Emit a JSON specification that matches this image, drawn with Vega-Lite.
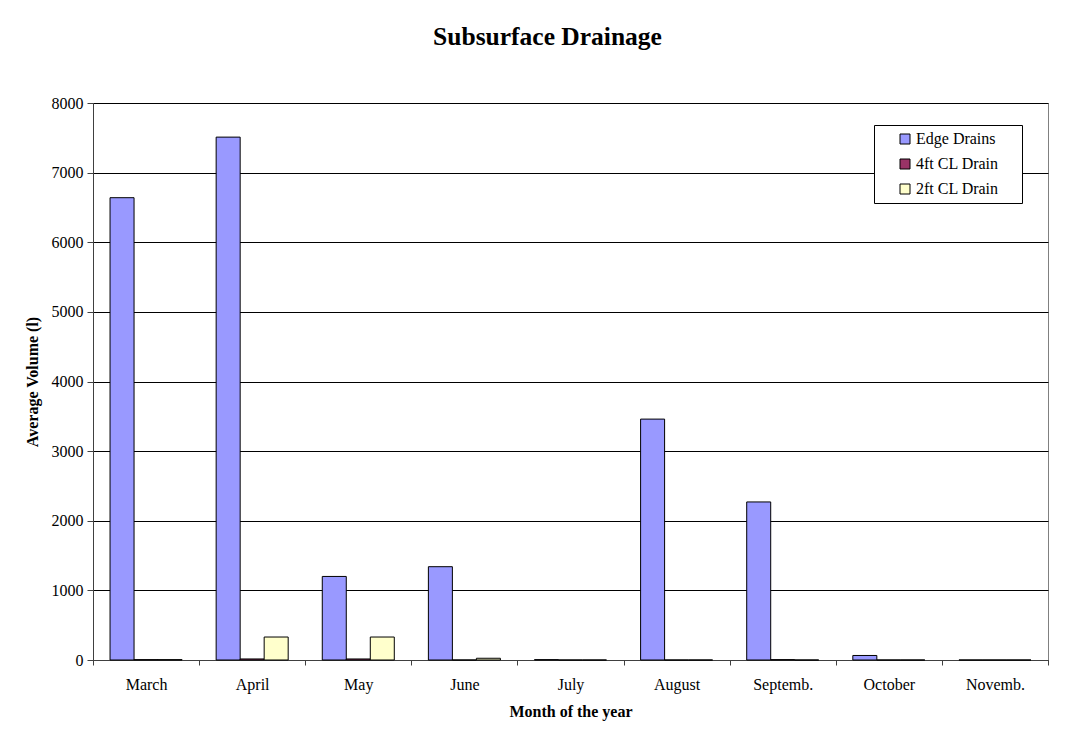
{
  "$schema": "https://vega.github.io/schema/vega-lite/v6.json",
  "width": 955,
  "height": 557,
  "autosize": {"type": "none"},
  "padding": {"left": 93, "top": 103, "right": 38, "bottom": 78},
  "background": "white",
  "title": {
    "text": "Subsurface Drainage",
    "font": "Liberation Serif",
    "fontSize": 25.5,
    "fontWeight": "bold",
    "color": "black",
    "anchor": "middle",
    "frame": "group",
    "dx": -23,
    "offset": 45
  },
  "data": {
    "values": [
      {"month": "March", "series": "Edge Drains", "volume": 6640},
      {"month": "March", "series": "4ft CL Drain", "volume": 5},
      {"month": "March", "series": "2ft CL Drain", "volume": 5},
      {"month": "April", "series": "Edge Drains", "volume": 7510},
      {"month": "April", "series": "4ft CL Drain", "volume": 15},
      {"month": "April", "series": "2ft CL Drain", "volume": 330},
      {"month": "May", "series": "Edge Drains", "volume": 1200},
      {"month": "May", "series": "4ft CL Drain", "volume": 15},
      {"month": "May", "series": "2ft CL Drain", "volume": 330},
      {"month": "June", "series": "Edge Drains", "volume": 1340},
      {"month": "June", "series": "4ft CL Drain", "volume": 0},
      {"month": "June", "series": "2ft CL Drain", "volume": 25},
      {"month": "July", "series": "Edge Drains", "volume": 5},
      {"month": "July", "series": "4ft CL Drain", "volume": 0},
      {"month": "July", "series": "2ft CL Drain", "volume": 0},
      {"month": "August", "series": "Edge Drains", "volume": 3460},
      {"month": "August", "series": "4ft CL Drain", "volume": 0},
      {"month": "August", "series": "2ft CL Drain", "volume": 0},
      {"month": "Septemb.", "series": "Edge Drains", "volume": 2270},
      {"month": "Septemb.", "series": "4ft CL Drain", "volume": 5},
      {"month": "Septemb.", "series": "2ft CL Drain", "volume": 0},
      {"month": "October", "series": "Edge Drains", "volume": 65},
      {"month": "October", "series": "4ft CL Drain", "volume": 0},
      {"month": "October", "series": "2ft CL Drain", "volume": 0},
      {"month": "Novemb.", "series": "Edge Drains", "volume": 0},
      {"month": "Novemb.", "series": "4ft CL Drain", "volume": 0},
      {"month": "Novemb.", "series": "2ft CL Drain", "volume": 0}
    ]
  },
  "mark": {"type": "bar", "stroke": "black", "strokeWidth": 1},
  "encoding": {
    "x": {
      "field": "month",
      "type": "nominal",
      "sort": ["March", "April", "May", "June", "July", "August", "Septemb.", "October", "Novemb."],
      "scale": {"paddingInner": 0, "paddingOuter": 0},
      "axis": {
        "title": "Month of the year",
        "labelAngle": 0,
        "tickBand": "extent",
        "tickSize": 5,
        "labelPadding": 11,
        "titlePadding": 11
      }
    },
    "xOffset": {
      "field": "series",
      "type": "nominal",
      "sort": ["Edge Drains", "4ft CL Drain", "2ft CL Drain"],
      "scale": {"paddingInner": 0, "paddingOuter": 0.71}
    },
    "y": {
      "field": "volume",
      "type": "quantitative",
      "scale": {"domain": [0, 8000], "nice": false},
      "axis": {
        "title": "Average Volume (l)",
        "values": [0, 1000, 2000, 3000, 4000, 5000, 6000, 7000, 8000],
        "format": "d",
        "grid": true,
        "tickSize": 6,
        "labelPadding": 4,
        "titlePadding": 11
      }
    },
    "color": {
      "field": "series",
      "type": "nominal",
      "scale": {
        "domain": ["Edge Drains", "4ft CL Drain", "2ft CL Drain"],
        "range": ["#9999FF", "#993366", "#FFFFCC"]
      },
      "legend": {
        "title": "\u00a0",
        "titleOrient": "right",
        "titlePadding": 17,
        "titleFontSize": 16,
        "orient": "none",
        "legendX": 781,
        "legendY": 22
      }
    }
  },
  "config": {
    "font": "Liberation Serif",
    "view": {"stroke": "#808080", "strokeWidth": 1},
    "axis": {
      "labelFont": "Liberation Serif",
      "labelFontSize": 16,
      "labelColor": "black",
      "titleFont": "Liberation Serif",
      "titleFontSize": 16,
      "titleFontWeight": "bold",
      "titleColor": "black",
      "domainColor": "#404040",
      "domainWidth": 1,
      "tickColor": "#404040",
      "tickWidth": 1,
      "gridColor": "black",
      "gridWidth": 1,
      "gridOpacity": 1
    },
    "legend": {
      "strokeColor": "black",
      "strokeWidth": 1,
      "fillColor": "white",
      "padding": 6,
      "symbolType": "square",
      "symbolSize": 100,
      "symbolStrokeColor": "black",
      "symbolStrokeWidth": 1,
      "symbolOffset": 17,
      "labelOffset": 3,
      "labelFont": "Liberation Serif",
      "labelFontSize": 16,
      "labelColor": "black",
      "rowPadding": 9
    }
  }
}
